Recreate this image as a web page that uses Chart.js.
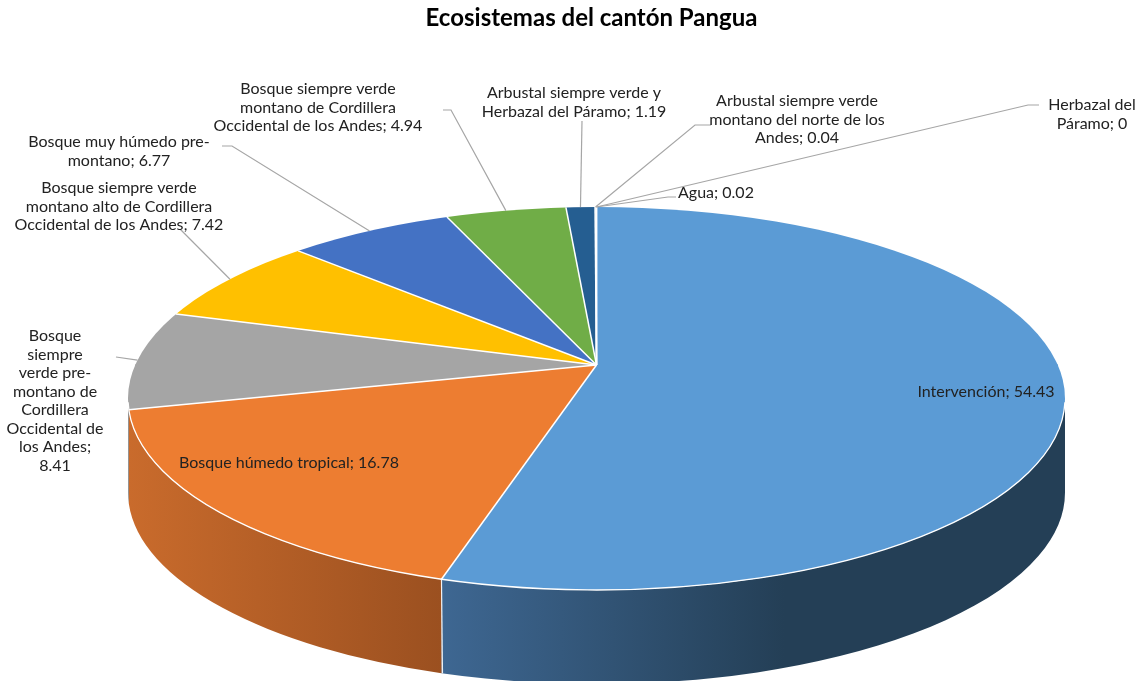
<!DOCTYPE html>
<html>
<head>
<meta charset="utf-8">
<script src="https://cdn.jsdelivr.net/npm/chart.js@4.4.0/dist/chart.umd.min.js"></script>
<style>
  html, body { margin: 0; padding: 0; background: #fff; }
  #wrap { width: 1143px; height: 681px; }
</style>
</head>
<body>
<div id="wrap"><canvas id="pie" width="1143" height="681"></canvas></div>
<script>
// Datos: superficie por ecosistema (%)
const chartTitle = 'Ecosistemas del cantón Pangua';
const categories = [
    'Intervención',
    'Bosque húmedo tropical',
    'Bosque siempre verde pre-montano de Cordillera Occidental de los Andes',
    'Bosque siempre verde montano alto de Cordillera Occidental de los Andes',
    'Bosque muy húmedo pre-montano',
    'Bosque siempre verde montano de Cordillera Occidental de los Andes',
    'Arbustal siempre verde y Herbazal del Páramo',
    'Arbustal siempre verde montano del norte de los Andes',
    'Agua',
    'Herbazal del Páramo'
];
const shares = [54.43, 16.78, 8.41, 7.42, 6.77, 4.94, 1.19, 0.04, 0.02, 0];

const sliceColors = ['#5b9bd5', '#ed7d31', '#a5a5a5', '#ffc000', '#4472c4', '#70ad47', '#255e91', '#9e480e', '#636363', '#997300'];
// lateral del pastel: color claro (izq.), oscuro (der.), punto donde llega al oscuro
const wallColors = [
    ['#3e6792', '#243f56', 0.55],
    ['#c96b2c', '#9b5020', 1],
    ['#8c8c8c', '#7a7a7a', 1],
    ['#d9a300', '#c49300', 1],
    ['#3a61a7', '#34579a', 1],
    ['#5f933c', '#558536', 1],
    ['#1f507b', '#1c4870', 1],
    ['#863d0c', '#863d0c', 1],
    ['#545454', '#545454', 1],
    ['#826200', '#826200', 1]
];

// Geometría del pastel 3D (elipse con vértice desplazado por la perspectiva)
const CX = 596.5, CY = 398.5, RX = 468.5, RY = 191.5;
const APEX_Y = 365, BACK = 190, FRONT = 185, DEPTH = 94;
const R = 150, E = 1.3;

const FONT = 'Lato, "Open Sans", sans-serif';
const LINE_H = 18.5;

// etiquetas: centro x, y de la primera línea, palabras por renglón, guía
const labelBoxes = [
    { x: 986, y: 392 },
    { x: 289, y: 463 },
    { x: 55, y: 336, rows: [1, 1, 2, 2, 1, 2, 2, 1], lead: [[116, 357]] },
    { x: 119, y: 188, rows: [3, 4, 5], lead: [[180, 229]] },
    { x: 119, y: 142, rows: [4, 2], lead: [[222, 146], [232, 146]] },
    { x: 318, y: 89, rows: [3, 3, 5], lead: [[443, 110], [451, 110]] },
    { x: 574, y: 93, rows: [4, 4], lead: [[582, 121]] },
    { x: 797, y: 101, rows: [3, 5, 2], lead: [[711, 125], [695, 125]] },
    { x: 678, y: 193, align: 'left', lead: [[676, 197], [668, 197]] },
    { x: 1092, y: 105, rows: [2, 2], lead: [[1039, 105], [1028, 105]] }
];

// punto del borde superior donde cae el radio de ángulo a
const rayHit = (a) => {
    const s = Math.sin(a);
    const dx = RX * Math.cos(a);
    const dy = (s < 0 ? BACK : FRONT) * s;
    const v = (APEX_Y - CY) / RY;
    const du = dx / RX, dv = dy / RY;
    const A = du * du + dv * dv, B = 2 * v * dv, C = v * v - 1;
    const t = (-B + Math.sqrt(B * B - 4 * A * C)) / (2 * A);
    return { x: CX + t * dx, y: APEX_Y + t * dy };
};
const paramOf = (p) => Math.atan2((p.y - CY) / RY, (p.x - CX) / RX);

// corta el texto en renglones (palabras y guiones)
const splitRows = (text, rows) => {
    const tokens = [];
    text.split(' ').forEach((word, wi) => {
        word.split(/(?<=-)/).forEach((p, pi) => tokens.push({ t: p, sp: wi > 0 && pi === 0 }));
    });
    if (!rows) return [text];
    const lines = [];
    let k = 0;
    rows.forEach(n => {
        let ln = '';
        tokens.slice(k, k + n).forEach((tok, j) => { ln += (j > 0 && tok.sp ? ' ' : '') + tok.t; });
        lines.push(ln);
        k += n;
    });
    return lines;
};

const clipRegion = (ctx, top, bottom) => {
    ctx.beginPath();
    ctx.rect(0, top, 1143, bottom - top);
    ctx.clip();
    ctx.beginPath();
    ctx.ellipse(CX, CY, RX, RY, 0, 0, Math.PI * 2);
    ctx.clip();
};

const pie3d = {
    id: 'pie3d',
    beforeDatasetsDraw(chart) {
        const ctx = chart.ctx;
        const arcs = chart.getDatasetMeta(0).data;
        // paredes laterales
        const bounds = [];
        arcs.forEach((arc, i) => {
            if (arc.endAngle - arc.startAngle <= 0) return;
            let t0 = paramOf(rayHit(arc.startAngle));
            let t1 = paramOf(rayHit(arc.endAngle));
            if (t0 < -Math.PI / 2 - 1e-6) t0 += Math.PI * 2;
            if (t1 < -Math.PI / 2 + 1e-6) t1 += Math.PI * 2;
            const lo = Math.max(t0, 0), hi = Math.min(t1, Math.PI);
            if (hi <= lo) return;
            const xl = CX + RX * Math.cos(hi), xr = CX + RX * Math.cos(lo);
            const [c0, c1, stop] = wallColors[i];
            const g = ctx.createLinearGradient(xl, 0, xr, 0);
            g.addColorStop(0, c0);
            g.addColorStop(stop, c1);
            g.addColorStop(1, c1);
            ctx.beginPath();
            ctx.ellipse(CX, CY, RX, RY, 0, lo, hi, false);
            ctx.ellipse(CX, CY + DEPTH, RX, RY, 0, hi, lo, true);
            ctx.closePath();
            ctx.fillStyle = g;
            ctx.fill();
            if (lo > 0.05 && lo < Math.PI - 0.08) bounds.push(lo);
        });
        ctx.save();
        ctx.strokeStyle = 'rgba(255,255,255,0.9)';
        ctx.lineWidth = 1.2;
        bounds.forEach(t => {
            const x = CX + RX * Math.cos(t), y = CY + RY * Math.sin(t);
            ctx.beginPath();
            ctx.moveTo(x, y);
            ctx.lineTo(x + 1, y + DEPTH);
            ctx.stroke();
        });
        ctx.restore();
        // cara superior, mitad trasera
        const a0 = arcs[0];
        ctx.save();
        clipRegion(ctx, 0, APEX_Y + 1);
        ctx.translate(CX, APEX_Y);
        ctx.scale(RX * E / R, BACK * E / R);
        ctx.translate(-a0.x, -a0.y);
    },
    afterDatasetsDraw(chart) {
        const ctx = chart.ctx;
        const meta = chart.getDatasetMeta(0);
        const arcs = meta.data;
        ctx.restore();
        // cara superior, mitad delantera
        ctx.save();
        clipRegion(ctx, APEX_Y - 1, 681);
        ctx.translate(CX, APEX_Y);
        ctx.scale(RX * E / R, FRONT * E / R);
        ctx.translate(-arcs[0].x, -arcs[0].y);
        meta.controller.draw();
        ctx.restore();
        // separaciones blancas
        ctx.save();
        ctx.strokeStyle = '#fff';
        ctx.lineWidth = 1.5;
        arcs.forEach(arc => {
            const p = rayHit(arc.startAngle);
            ctx.beginPath();
            ctx.moveTo(CX, APEX_Y);
            ctx.lineTo(p.x, p.y);
            ctx.stroke();
        });
        ctx.lineWidth = 1.3;
        ctx.beginPath();
        ctx.ellipse(CX, CY, RX, RY, 0, 0.02, Math.PI - 0.02);
        ctx.stroke();
        ctx.restore();
    }
};

const sliceLabels = {
    id: 'sliceLabels',
    afterDraw(chart) {
        const ctx = chart.ctx;
        const arcs = chart.getDatasetMeta(0).data;
        ctx.save();
        ctx.font = '16px ' + FONT;
        ctx.textBaseline = 'middle';
        arcs.forEach((arc, i) => {
            const box = labelBoxes[i];
            if (box.lead) {
                const end = rayHit((arc.startAngle + arc.endAngle) / 2);
                ctx.strokeStyle = '#a6a6a6';
                ctx.lineWidth = 1.2;
                ctx.beginPath();
                ctx.moveTo(box.lead[0][0], box.lead[0][1]);
                box.lead.slice(1).forEach(p => ctx.lineTo(p[0], p[1]));
                ctx.lineTo(end.x, end.y);
                ctx.stroke();
            }
            const lines = splitRows(categories[i] + '; ' + shares[i], box.rows);
            ctx.fillStyle = '#222';
            ctx.textAlign = box.align || 'center';
            lines.forEach((ln, k) => ctx.fillText(ln, box.x, box.y + k * LINE_H));
        });
        ctx.restore();
    }
};

new Chart(document.getElementById('pie'), {
    type: 'pie',
    data: {
        labels: categories,
        datasets: [{
            data: shares,
            backgroundColor: sliceColors,
            borderWidth: 0,
            hoverOffset: 0,
            offset: 0,
            radius: R,
            clip: false
        }]
    },
    options: {
        responsive: false,
        animation: false,
        events: [],
        layout: { padding: { left: 40 } },
        plugins: {
            legend: { display: false },
            tooltip: { enabled: false },
            title: {
                display: true,
                text: chartTitle,
                color: '#000',
                font: { family: FONT, size: 24, weight: 'bold', lineHeight: 1.2 },
                padding: { top: 4, bottom: 4 }
            }
        }
    },
    plugins: [pie3d, sliceLabels]
});
</script>
</body>
</html>
